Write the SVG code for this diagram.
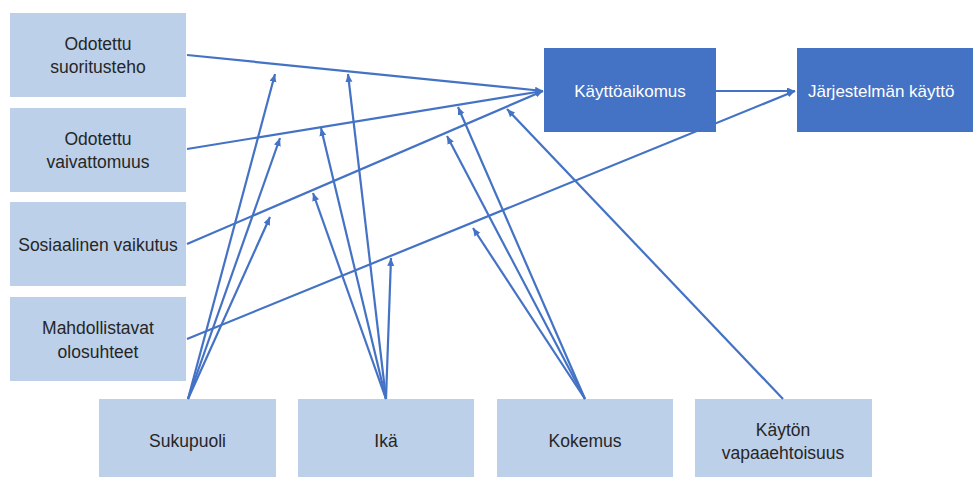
<svg xmlns="http://www.w3.org/2000/svg" width="973" height="477" viewBox="0 0 973 477">
<style>
.lb{fill:#BDD0E9;}
.db{fill:#4472C4;}
.t{font-family:"Liberation Sans",Arial,sans-serif;font-size:17.5px;fill:#262626;text-anchor:middle;}
.tw{font-family:"Liberation Sans",Arial,sans-serif;font-size:17px;fill:#FFFFFF;text-anchor:middle;}
.c line{stroke:#4472C4;stroke-width:2.2;fill:none;marker-end:url(#ah);}
</style>
<defs>
<marker id="ah" markerUnits="userSpaceOnUse" markerWidth="10" markerHeight="8" refX="8" refY="3.5" orient="auto">
<path d="M0,0 L8,3.5 L0,7 z" fill="#4472C4"/>
</marker>
</defs>
<rect width="973" height="477" fill="#FFFFFF"/>
<g id="n-suoritusteho"><rect class="lb" x="10" y="13" width="176" height="84"/><text class="t" x="98" y="50">Odotettu</text><text class="t" x="98" y="73">suoritusteho</text></g>
<g id="n-vaivattomuus"><rect class="lb" x="10" y="108" width="176" height="84"/><text class="t" x="98" y="145">Odotettu</text><text class="t" x="98" y="168">vaivattomuus</text></g>
<g id="n-sosiaalinen"><rect class="lb" x="10" y="202" width="176" height="84"/><text class="t" x="98" y="251">Sosiaalinen vaikutus</text></g>
<g id="n-olosuhteet"><rect class="lb" x="10" y="297" width="176" height="84"/><text class="t" x="98" y="334">Mahdollistavat</text><text class="t" x="98" y="358">olosuhteet</text></g>
<g id="n-kayttoaikomus"><rect class="db" x="544" y="48" width="172" height="84"/><text class="tw" x="630" y="97">Käyttöaikomus</text></g>
<g id="n-jarjestelman"><rect class="db" x="797" y="48" width="180" height="84"/><text class="tw" x="808" y="97" style="text-anchor:start">Järjestelmän käyttö</text></g>
<g id="n-sukupuoli"><rect class="lb" x="99" y="399" width="177" height="90"/><text class="t" x="187.5" y="447">Sukupuoli</text></g>
<g id="n-ika"><rect class="lb" x="298" y="399" width="176" height="90"/><text class="t" x="386" y="447">Ikä</text></g>
<g id="n-kokemus"><rect class="lb" x="497" y="399" width="176" height="90"/><text class="t" x="585" y="447">Kokemus</text></g>
<g id="n-vapaaehtoisuus"><rect class="lb" x="695" y="399" width="177" height="90"/><text class="t" x="783" y="436">Käytön</text><text class="t" x="783" y="459">vapaaehtoisuus</text></g>
<g id="connectors" class="c">
<line x1="187" y1="55" x2="543" y2="91"/>
<line x1="187" y1="149" x2="543" y2="91"/>
<line x1="187" y1="244" x2="543" y2="91"/>
<line x1="187" y1="339" x2="795" y2="91"/>
<line x1="716" y1="91" x2="795" y2="91"/>
<line x1="188" y1="399" x2="275" y2="74"/>
<line x1="188" y1="399" x2="280" y2="138"/>
<line x1="188" y1="399" x2="270" y2="217"/>
<line x1="386" y1="399" x2="348" y2="74"/>
<line x1="386" y1="399" x2="321" y2="128"/>
<line x1="386" y1="399" x2="313" y2="193"/>
<line x1="386" y1="399" x2="391" y2="258"/>
<line x1="585" y1="399" x2="458" y2="107"/>
<line x1="585" y1="399" x2="447" y2="136"/>
<line x1="585" y1="399" x2="473" y2="228"/>
<line x1="783" y1="399" x2="507" y2="109"/>
</g>
</svg>
